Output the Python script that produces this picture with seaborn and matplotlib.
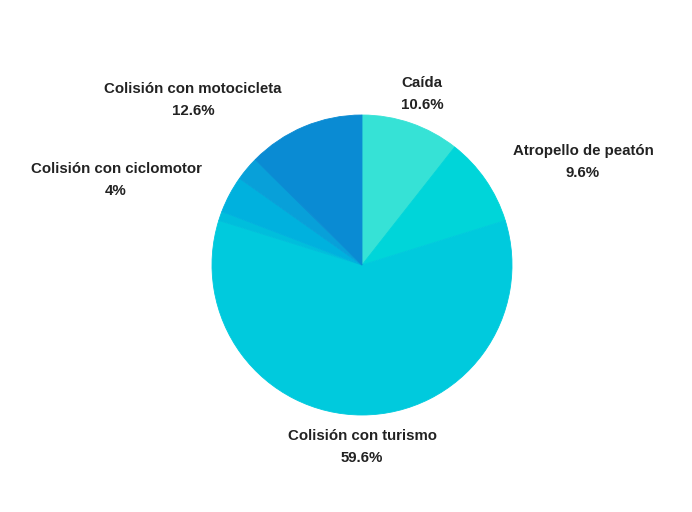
import matplotlib
matplotlib.use("Agg")
import matplotlib.pyplot as plt
import seaborn as sns

# datos (porcentajes, en sentido horario desde arriba)
categorias = ["Caída", "Atropello de peatón", "Colisión con turismo", "",
              "Colisión con ciclomotor", "", "Colisión con motocicleta"]
valores = [10.6, 9.6, 59.6, 1.0, 4.0, 2.6, 12.6]
colores = ["#36e2d6", "#00d5d9", "#00cadd", "#00bedc",
           "#00b1de", "#08a0d9", "#0a8bd3"]

# centro de cada etiqueta, en pixeles de la imagen
pos_etiquetas = [(422, 94), (583, 162), (362, 447), None,
                 (116, 180), None, (193, 100)]

W, H = 692, 512
CX, CY, R = 362, 265, 150

sns.set_theme(style="white")
plt.rcParams["font.family"] = ["Liberation Sans", "DejaVu Sans"]

fig = plt.figure(figsize=(W / 100, H / 100), dpi=100)
ax = fig.add_axes([0, 0, 1, 1])

wedges, _ = ax.pie(valores, colors=colores, startangle=90, counterclock=False,
                   radius=1, center=(0, 0), wedgeprops=dict(linewidth=0.6))
for w in wedges:
    w.set_edgecolor(w.get_facecolor())

ax.set_xlim(-CX / R, (W - CX) / R)
ax.set_ylim(-(H - CY) / R, CY / R)
ax.set_aspect("equal")
ax.axis("off")

for nombre, v, p in zip(categorias, valores, pos_etiquetas):
    if not nombre or p is None:
        continue
    x = (p[0] - CX) / R
    y = (CY - p[1]) / R
    ax.text(x, y, f"{nombre}\n{v:g}%", ha="center", va="center",
            fontsize=10.8, fontweight="bold", color="#222222",
            linespacing=1.7)

fig.savefig("out.png", dpi=100, facecolor="white")
plt.close(fig)
